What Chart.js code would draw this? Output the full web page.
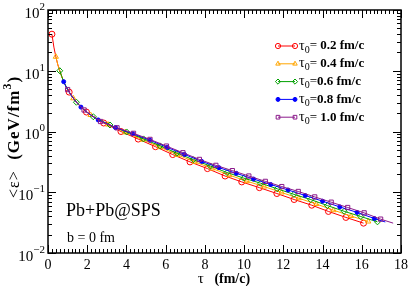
<!DOCTYPE html>
<html>
<head>
<meta charset="utf-8">
<script src="https://cdn.jsdelivr.net/npm/chart.js@4.4.0/dist/chart.umd.min.js"></script>
<style>
html, body { margin: 0; padding: 0; background: #fff; }
#wrap { width: 409px; height: 286px; }
</style>
</head>
<body>
<div id="wrap"><canvas id="myChart"></canvas></div>
<script>
// <eps> (GeV/fm^3) vs tau (fm/c), one pair of arrays per tau0
// bare* = helper points on the line that carry no marker
const tau02 = [0.2, 0.3, 0.4, 0.5, 0.6, 0.7, 0.8, 0.9, 1.08, 1.5, 1.96, 2.84, 3.72, 4.6, 5.48, 6.36, 7.24, 8.13, 9.03, 9.88, 10.78, 11.67, 12.55, 13.45, 14.3, 15.19, 16.09];
const eps02 = [40, 24.5, 17.0, 12.6, 10.0, 8.04, 6.61, 5.62, 4.45, 2.88, 2.09, 1.38, 1.0, 0.75, 0.562, 0.417, 0.316, 0.245, 0.185, 0.148, 0.119, 0.0953, 0.0759, 0.0612, 0.0483, 0.0385, 0.031];
const bare02 = [0.3, 0.4, 0.5, 0.6, 0.7, 0.8, 0.9, 1.5];

const tau04 = [0.4, 0.5, 0.6, 0.8, 1.0, 1.29, 1.7, 2.17, 3.06, 3.94, 4.83, 5.71, 6.6, 7.48, 8.37, 9.25, 10.14, 11.02, 11.91, 12.79, 13.68, 14.56, 15.45, 16.33];
const eps04 = [17.0, 12.6, 10.0, 6.61, 4.90, 3.52, 2.48, 1.87, 1.30, 0.968, 0.733, 0.552, 0.413, 0.317, 0.246, 0.191, 0.152, 0.124, 0.0991, 0.0796, 0.0641, 0.0506, 0.0406, 0.033];
const bare04 = [0.5, 0.6, 0.8, 1.0, 1.7];

const tau06 = [0.6, 0.7, 0.8, 1.0, 1.2, 1.45, 1.9, 2.31, 3.16, 4.01, 4.87, 5.72, 6.57, 7.42, 8.28, 9.13, 9.98, 10.84, 11.69, 12.54, 13.4, 14.25, 15.1, 15.95, 16.8];
const eps06 = [10.0, 8.04, 6.61, 4.90, 3.85, 3.03, 2.18, 1.75, 1.28, 0.982, 0.755, 0.579, 0.441, 0.343, 0.270, 0.211, 0.171, 0.141, 0.114, 0.0923, 0.0757, 0.0603, 0.0486, 0.0398, 0.0326];
const bare06 = [0.7, 0.8, 1.0, 1.2, 1.9];

const tau08 = [0.8, 0.9, 1.0, 1.2, 1.4, 1.68, 2.1, 2.56, 3.44, 4.32, 5.2, 6.08, 6.96, 7.84, 8.72, 9.6, 10.48, 11.36, 12.24, 13.12, 14.0, 14.88, 15.76, 16.64, 17.2];
const eps08 = [6.61, 5.62, 4.90, 3.85, 3.16, 2.52, 1.94, 1.55, 1.16, 0.918, 0.718, 0.547, 0.419, 0.322, 0.254, 0.205, 0.165, 0.134, 0.109, 0.0883, 0.0713, 0.0574, 0.0466, 0.037, 0.0324];
const bare08 = [0.9, 1.0, 1.2, 1.4, 2.1, 17.2];

const tau10 = [1.0, 1.4, 1.84, 2.68, 3.52, 4.36, 5.2, 6.04, 6.88, 7.72, 8.56, 9.4, 10.24, 11.08, 11.92, 12.76, 13.6, 14.44, 15.28, 16.12, 16.96, 17.6];
const eps10 = [4.90, 3.16, 2.26, 1.46, 1.15, 0.933, 0.741, 0.575, 0.447, 0.347, 0.277, 0.227, 0.185, 0.151, 0.124, 0.103, 0.0838, 0.0686, 0.0561, 0.0458, 0.0361, 0.031];
const bare10 = [1.4, 17.6];

const legendText = [' 0.2 fm/c', ' 0.4 fm/c', '0.6 fm/c', '0.8 fm/c', ' 1.0 fm/c'];
const xTicks = [0, 2, 4, 6, 8, 10, 12, 14, 16, 18];
const yDecades = [-2, -1, 0, 1, 2];

const SERIF = '"Liberation Serif", "Times New Roman", serif';

function series(tau, eps, bare, color, style, filled, r, order) {
    return {
        data: tau.map((t, i) => ({ x: t, y: eps[i] })),
        borderColor: color,
        borderWidth: 1,
        pointStyle: style,
        pointBorderColor: color,
        pointBackgroundColor: filled ? color : 'transparent',
        pointBorderWidth: 1,
        pointRadius: c => bare.includes(c.raw.x) ? 0 : r,
        tension: 0,
        order: order
    };
}

const sets = [
    series(tau02, eps02, bare02, '#ff0000', 'circle', false, 3, 5),
    series(tau04, eps04, bare04, '#ffa500', 'triangle', false, 3, 4),
    series(tau06, eps06, bare06, '#00a000', 'rectRot', false, 3, 3),
    series(tau08, eps08, bare08, '#0000ff', 'circle', true, 2, 2),
    series(tau10, eps10, bare10, '#8b1a8b', 'rect', false, 3, 1)
];

// draw a row of text pieces with their own fonts, left to right
function runs(ctx, x, y, parts) {
    parts.forEach(p => {
        ctx.font = p.font;
        ctx.fillText(p.t, x, y + (p.dy || 0));
        x += ctx.measureText(p.t).width;
    });
    return x;
}
function runsWidth(ctx, parts) {
    let w = 0;
    parts.forEach(p => { ctx.font = p.font; w += ctx.measureText(p.t).width; });
    return w;
}

const decor = {
    id: 'decor',
    afterDraw(chart) {
        const { ctx, chartArea: a, scales: { x, y } } = chart;
        ctx.save();
        ctx.strokeStyle = '#000';
        ctx.fillStyle = '#000';

        // ticks on all four sides, pointing in
        ctx.lineWidth = 1;
        ctx.beginPath();
        for (let i = 0; i <= 90; i++) {
            const px = Math.round(x.getPixelForValue(i * 0.2)) + 0.5;
            const len = i % 10 === 0 ? 8 : 4;
            ctx.moveTo(px, a.bottom); ctx.lineTo(px, a.bottom - len);
            ctx.moveTo(px, a.top); ctx.lineTo(px, a.top + len);
        }
        for (let k = -2; k <= 1; k++) {
            for (let m = 1; m <= 10; m++) {
                const py = Math.round(y.getPixelForValue(m * Math.pow(10, k))) + 0.5;
                const len = (m === 1 || m === 10) ? 8 : 4;
                ctx.moveTo(a.left, py); ctx.lineTo(a.left + len, py);
                ctx.moveTo(a.right, py); ctx.lineTo(a.right - len, py);
            }
        }
        ctx.stroke();
        ctx.lineWidth = 1.5;
        ctx.strokeRect(a.left, a.top, a.right - a.left, a.bottom - a.top);

        // x tick labels
        ctx.font = '14px ' + SERIF;
        ctx.textAlign = 'center';
        ctx.textBaseline = 'middle';
        xTicks.forEach(v => ctx.fillText(String(v), x.getPixelForValue(v), a.bottom + 12));

        // y tick labels 10^n
        ctx.textAlign = 'left';
        yDecades.forEach(k => {
            const py = y.getPixelForValue(Math.pow(10, k));
            const parts = [
                { t: '10', font: '15px ' + SERIF, dy: 4 },
                { t: String(k).replace('-', '\u2212'), font: '11px ' + SERIF, dy: -3 }
            ];
            runs(ctx, a.left - 3 - runsWidth(ctx, parts), py, parts);
        });

        // x title
        const xt = [
            { t: '\u03c4', font: '15px ' + SERIF },
            { t: '   (fm/c)', font: 'bold 14px ' + SERIF }
        ];
        runs(ctx, 224 - runsWidth(ctx, xt) / 2, 279, xt);

        // y title, rotated
        const yt = [
            { t: '<\u03b5>', font: '16px ' + SERIF },
            { t: '  (GeV/fm', font: 'bold 17px ' + SERIF },
            { t: '3', font: 'bold 12px ' + SERIF, dy: -7 },
            { t: ')', font: 'bold 17px ' + SERIF }
        ];
        ctx.save();
        ctx.translate(15, 137);
        ctx.rotate(-Math.PI / 2);
        ctx.letterSpacing = '1px';
        runs(ctx, -runsWidth(ctx, yt) / 2, 0, yt);
        ctx.letterSpacing = '0px';
        ctx.restore();

        // annotation
        ctx.font = '18px ' + SERIF;
        ctx.fillText('Pb+Pb@SPS', 66, 211);
        ctx.font = '14px ' + SERIF;
        ctx.fillText('b = 0 fm', 67, 238);

        // legend
        sets.forEach((s, i) => {
            const ly = 46 + i * 17.8;
            const x1 = 278, x2 = 295;
            const r = i === 3 ? 2 : 2.6;
            ctx.strokeStyle = s.borderColor;
            ctx.fillStyle = s.pointBackgroundColor;
            ctx.lineWidth = 1;
            ctx.beginPath(); ctx.moveTo(x1, ly); ctx.lineTo(x2, ly); ctx.stroke();
            [x1, x2].forEach(px => {
                Chart.helpers.drawPoint(ctx, {
                    pointStyle: s.pointStyle, radius: r, borderWidth: 1, rotation: 0
                }, px, ly);
            });
            ctx.fillStyle = '#000';
            runs(ctx, 299, ly, [
                { t: '\u03c4', font: '14px ' + SERIF },
                { t: '0', font: '10px ' + SERIF, dy: 4 },
                { t: '=', font: '13px ' + SERIF },
                { t: legendText[i], font: 'bold 13px ' + SERIF }
            ]);
        });
        ctx.restore();
    }
};

const ctx = document.getElementById('myChart').getContext('2d');
new Chart(ctx, {
    type: 'line',
    data: { datasets: sets },
    options: {
        responsive: true,
        maintainAspectRatio: false,
        animation: false,
        events: [],
        devicePixelRatio: 1,
        layout: { padding: { left: 0, top: 10, right: 8, bottom: 0 } },
        plugins: { legend: { display: false }, tooltip: { enabled: false } },
        scales: {
            x: {
                type: 'linear', min: 0, max: 18,
                grid: { display: false }, border: { display: false },
                ticks: { display: false },
                afterFit: s => { s.height = 33; }
            },
            y: {
                type: 'logarithmic', min: 0.01, max: 100,
                grid: { display: false }, border: { display: false },
                ticks: { display: false },
                afterFit: s => { s.width = 48; }
            }
        }
    },
    plugins: [decor]
});
</script>
</body>
</html>
